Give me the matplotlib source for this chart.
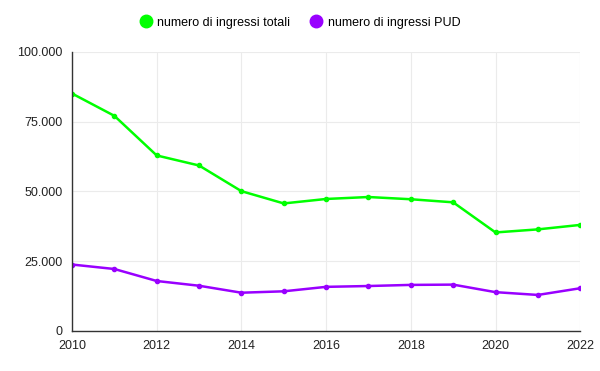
"""Ingressi totali e ingressi PUD, 2010-2022."""

import matplotlib.pyplot as plt
from matplotlib.ticker import FuncFormatter

plt.rcParams["font.family"] = ["Liberation Sans", "DejaVu Sans"]

years = list(range(2010, 2023))
ingressi_totali = [85100, 77100, 62900, 59300, 50100, 45700, 47300,
                   48000, 47200, 46100, 35300, 36400, 38000]
ingressi_pud = [23800, 22200, 17900, 16200, 13700, 14200, 15800,
                16100, 16500, 16600, 13900, 12900, 15300]

GREEN = "#00ff00"
PURPLE = "#9900ff"


def main():
    fig = plt.figure(figsize=(6, 3.71), dpi=100)
    ax = fig.add_axes([0.12, 0.108, 0.847, 0.752])

    ax.plot(years, ingressi_totali, color=GREEN, lw=1.8, marker="o", ms=3,
            label="numero di ingressi totali")
    ax.plot(years, ingressi_pud, color=PURPLE, lw=1.8, marker="o", ms=3,
            label="numero di ingressi PUD")

    ax.set_xlim(2010, 2022)
    ax.set_ylim(0, 100000)
    ax.set_xticks(range(2010, 2023, 2))
    ax.set_yticks(range(0, 100001, 25000))
    ax.yaxis.set_major_formatter(
        FuncFormatter(lambda v, _: f"{int(v):,}".replace(",", ".")))
    ax.grid(color="#ebebeb", lw=0.8)
    ax.set_axisbelow(True)
    ax.tick_params(length=0, labelsize=9, colors="#222222")
    ax.tick_params(axis="x", pad=6.5)
    ax.tick_params(axis="y", pad=7)

    for side in ("top", "right"):
        ax.spines[side].set_visible(False)
    for side in ("left", "bottom"):
        ax.spines[side].set_color("#333333")
        ax.spines[side].set_linewidth(1)

    handles, labels = ax.get_legend_handles_labels()
    leg_handles = [plt.Line2D([], [], ls="", marker="o", ms=9, color=h.get_color())
                   for h in handles]
    fig.legend(leg_handles, labels, loc="upper center", bbox_to_anchor=(0.5, 0.985),
               ncol=2, frameon=False, fontsize=9, handlelength=1.0,
               handletextpad=0.4, columnspacing=1.6)

    fig.savefig("out.png", dpi=100)


if __name__ == "__main__":
    main()
